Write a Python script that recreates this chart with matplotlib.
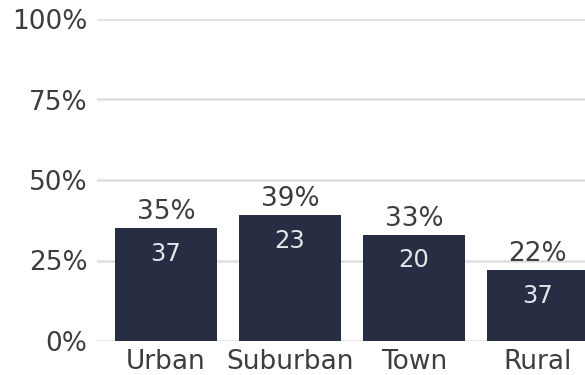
import matplotlib
matplotlib.use("Agg")
import matplotlib.pyplot as plt
from matplotlib.ticker import FixedLocator, PercentFormatter

categories = ["Urban", "Suburban", "Town", "Rural"]
shares = [35, 39, 33, 22]          # percent of respondents
counts = [37, 23, 20, 37]          # number of respondents in each group
y_ticks = [0, 25, 50, 75, 100]

plt.rcParams["font.family"] = ["DejaVu Sans"]

fig = plt.figure(figsize=(5.85, 3.75), dpi=100)
ax = fig.add_axes([97 / 585, 34 / 375, 1 - 97 / 585, 322 / 375])

bar_color = "#272d42"
text_color = "#3d3d3d"
fs = 19

x = range(len(categories))
bars = ax.bar(x, shares, width=0.82, color=bar_color, zorder=3)

for rect, share, n in zip(bars, shares, counts):
    cx = rect.get_x() + rect.get_width() / 2
    top = rect.get_height()
    ax.annotate(f"{share}%", (cx, top), xytext=(0, 6.5), textcoords="offset points",
                ha="center", va="baseline", fontsize=fs, color=text_color)
    ax.annotate(f"{n}", (cx, top), xytext=(0, -23.5), textcoords="offset points",
                ha="center", va="baseline", fontsize=fs - 1.5, color="#e4e6ec")

ax.set_xlim(-0.556, 3.38)
ax.set_ylim(0, 100)
ax.yaxis.set_major_locator(FixedLocator(y_ticks))
ax.yaxis.set_major_formatter(PercentFormatter(decimals=0))
ax.set_xticks(list(x))
ax.set_xticklabels(categories)

ax.grid(axis="y", color="#dedede", linewidth=1.8, zorder=0)
ax.grid(axis="x", visible=False)
for side in ax.spines.values():
    side.set_visible(False)
ax.tick_params(axis="both", length=0, labelsize=fs, colors=text_color)
ax.tick_params(axis="y", pad=7)
ax.tick_params(axis="x", pad=6)

fig.savefig("out.png", dpi=100)
